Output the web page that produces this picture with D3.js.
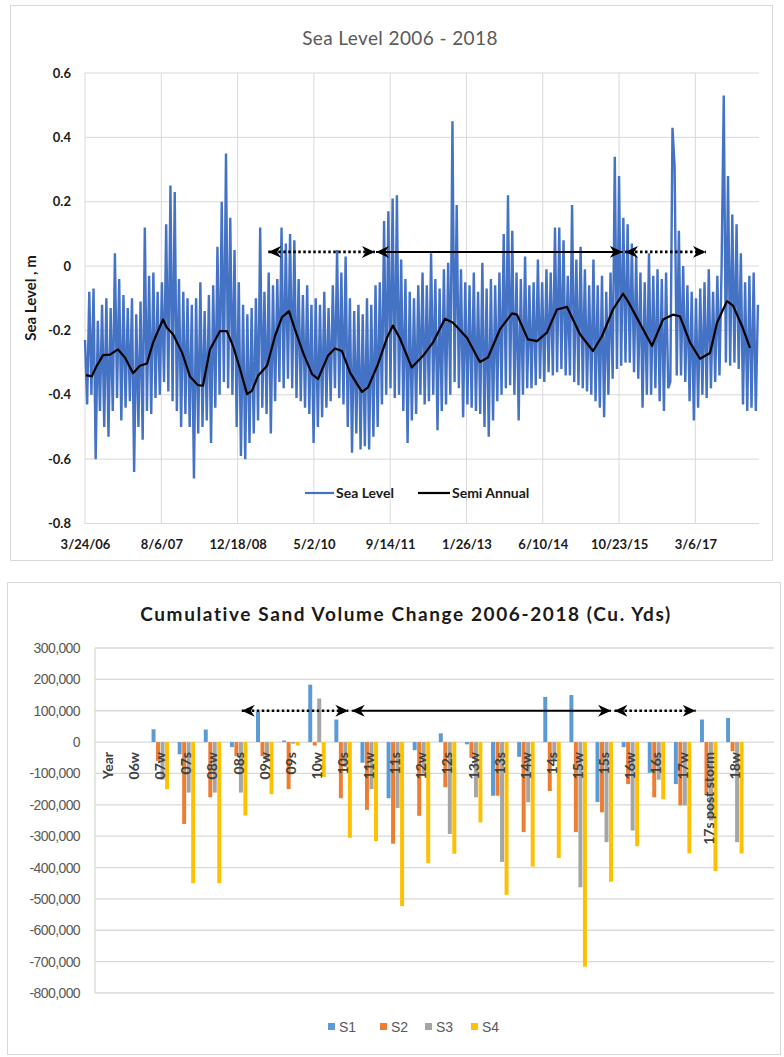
<!DOCTYPE html>
<html>
<head>
<meta charset="utf-8">
<script src="https://cdn.jsdelivr.net/npm/d3@7"></script>
<style>
  body { margin: 0; background: #fff; }
  svg { display: block; font-family: Lato, "Open Sans", sans-serif; }
</style>
</head>
<body>
<svg id="chart" width="784" height="1057"></svg>
<script>
// ---------- Sea level data ----------
const seaStart = "2006-03-24";
const seaEndDay = 4417;          // last day shown on the date axis
const seaStepDays = 14;          // spacing of the sampled sea level points
const seaLevel = [
  -0.23, -0.43, -0.08, -0.40, -0.07, -0.60, -0.17, -0.45, -0.12, -0.50,
  -0.10, -0.53, -0.13, -0.45, 0.04, -0.41, -0.04, -0.48, -0.09, -0.44,
  -0.13, -0.42, -0.10, -0.64, -0.15, -0.50, -0.11, -0.54, 0.12, -0.45,
  -0.03, -0.46, -0.02, -0.41, -0.08, -0.40, -0.05, -0.36, 0.13, -0.39,
  0.25, -0.42, 0.23, -0.45, -0.04, -0.50, -0.08, -0.46, -0.10, -0.50,
  -0.12, -0.66, -0.10, -0.52, -0.05, -0.50, -0.14, -0.48, -0.09, -0.55,
  -0.06, -0.44, 0.06, -0.40, 0.20, -0.36, 0.35, -0.38, 0.15, -0.40,
  0.05, -0.50, -0.05, -0.59, -0.12, -0.60, -0.15, -0.55, -0.13, -0.52,
  -0.10, -0.48, 0.12, -0.44, -0.08, -0.46, -0.02, -0.52, -0.06, -0.42,
  -0.04, -0.36, 0.12, -0.38, 0.07, -0.35, 0.10, -0.38, 0.08, -0.41,
  -0.04, -0.42, -0.09, -0.44, -0.06, -0.46, -0.12, -0.55, -0.10, -0.50,
  -0.12, -0.47, -0.08, -0.44, -0.13, -0.42, -0.06, -0.38, 0.05, -0.41,
  -0.02, -0.43, 0.03, -0.50, -0.10, -0.58, -0.14, -0.52, -0.12, -0.57,
  -0.15, -0.56, -0.10, -0.57, -0.12, -0.53, -0.06, -0.50, -0.05, -0.43,
  0.14, -0.40, 0.17, -0.38, 0.21, -0.41, 0.22, -0.40, 0.02, -0.45,
  -0.04, -0.55, -0.08, -0.48, -0.10, -0.46, -0.06, -0.40, -0.02, -0.43,
  -0.06, -0.42, 0.04, -0.40, -0.04, -0.51, -0.07, -0.45, -0.01, -0.43,
  0.01, -0.40, 0.45, -0.36, 0.19, -0.38, -0.01, -0.47, -0.05, -0.43,
  -0.06, -0.44, -0.02, -0.45, -0.08, -0.46, 0.01, -0.50, -0.07, -0.53,
  -0.04, -0.48, -0.06, -0.42, -0.02, -0.40, 0.10, -0.38, 0.22, -0.37,
  0.11, -0.40, -0.02, -0.48, -0.04, -0.40, 0.03, -0.38, -0.06, -0.38,
  -0.05, -0.37, 0.02, -0.35, -0.05, -0.36, -0.01, -0.33, -0.02, -0.34,
  0.12, -0.33, 0.12, -0.32, 0.08, -0.34, -0.03, -0.34, 0.19, -0.36,
  0.02, -0.37, 0.06, -0.38, -0.01, -0.39, -0.06, -0.40, 0.02, -0.42,
  -0.06, -0.44, -0.03, -0.47, -0.08, -0.40, -0.02, -0.35, 0.34, -0.32,
  0.28, -0.31, 0.15, -0.30, 0.13, -0.30, 0.07, -0.33, 0.03, -0.35,
  -0.02, -0.44, -0.05, -0.40, 0.04, -0.40, -0.03, -0.38, -0.01, -0.42,
  -0.04, -0.45, -0.02, -0.38, -0.36, 0.43, 0.31, -0.34, 0.11, -0.34,
  0.00, -0.36, -0.06, -0.42, -0.08, -0.48, -0.10, -0.44, -0.07, -0.40,
  -0.05, -0.41, -0.01, -0.38, -0.08, -0.36, -0.03, -0.34, 0.00, 0.53,
  -0.30, 0.28, -0.31, 0.16, -0.30, 0.13, -0.32, 0.04, -0.43, -0.05,
  -0.45, -0.03, -0.44, -0.02, -0.45, -0.12
];
const semiDays = [
  7, 44, 77, 118, 164, 216, 262, 315, 360, 406,
  446, 511, 537, 577, 636, 688, 740, 773, 819, 885,
  930, 970, 1016, 1062, 1094, 1134, 1193, 1245, 1291, 1337,
  1376, 1429, 1488, 1527, 1592, 1638, 1684, 1737, 1815, 1855,
  1920, 1979, 2018, 2064, 2141, 2215, 2280, 2359, 2412, 2503,
  2588, 2641, 2719, 2798, 2831, 2903, 2962, 3027, 3093, 3159,
  3244, 3329, 3388, 3460, 3526, 3558, 3617, 3716, 3788, 3853,
  3899, 3965, 4030, 4096, 4142, 4207, 4247, 4306, 4358
];
const semiAnnual = [
  -0.339, -0.343, -0.31, -0.277, -0.275, -0.259, -0.284, -0.333, -0.31, -0.303,
  -0.238, -0.166, -0.192, -0.212, -0.269, -0.343, -0.37, -0.372, -0.259, -0.202,
  -0.202, -0.248, -0.32, -0.398, -0.388, -0.341, -0.31, -0.218, -0.159, -0.14,
  -0.197, -0.269, -0.336, -0.351, -0.279, -0.256, -0.264, -0.331, -0.391, -0.377,
  -0.305, -0.223, -0.185, -0.225, -0.315, -0.279, -0.238, -0.164, -0.176, -0.223,
  -0.298, -0.284, -0.197, -0.147, -0.151, -0.228, -0.233, -0.207, -0.135, -0.127,
  -0.212, -0.264, -0.218, -0.135, -0.086, -0.109, -0.161, -0.248, -0.166, -0.151,
  -0.156, -0.238, -0.288, -0.27, -0.176, -0.109, -0.123, -0.187, -0.254
];
const seaXTickDays = [0, 500, 1000, 1500, 2000, 2500, 3000, 3500, 4000];
const seaYTicks = [-0.8, -0.6, -0.4, -0.2, 0, 0.2, 0.4, 0.6];
const seaArrowDays = [[1201, 1900], [1907, 3524], [3539, 4069]];
const seaArrowLevel = 0.044;

// ---------- Sand volume data ----------
const sandCats = ["Year", "06w", "07w", "07s", "08w", "08s", "09w", "09s", "10w", "10s",
  "11w", "11s", "12w", "12s", "13w", "13s", "14w", "14s", "15w", "15s",
  "16w", "16s", "17w", "17s post storm", "18w", ""];
const sandSeries = ["S1", "S2", "S3", "S4"];
const s1 = [0, 0, 41000, -39000, 40000, -16000, 97000, 5000, 183000, 72000,
  -66000, -179000, -26000, 28000, -7000, -171000, -47000, 144000, 150000, -191000,
  -16000, -98000, -134000, 72000, 77000, 0];
const s2 = [0, 0, -60000, -261000, -176000, -45000, -45000, -150000, -11000, -179000,
  -216000, -324000, -235000, -144000, -50000, -171000, -287000, -156000, -287000, -224000,
  -134000, -176000, -202000, -168000, -29000, 0];
const s3 = [0, 0, -120000, -161000, -161000, -161000, -60000, -5000, 139000, -80000,
  -150000, -210000, -100000, -293000, -176000, -382000, -192000, -60000, -463000, -319000,
  -282000, -120000, -202000, -250000, -319000, 0];
const s4 = [0, 0, -150000, -450000, -450000, -234000, -166000, -11000, -111000, -305000,
  -316000, -523000, -386000, -356000, -256000, -487000, -397000, -370000, -716000, -445000,
  -332000, -182000, -355000, -411000, -355000, 0];
const sandYTicks = [300000, 200000, 100000, 0, -100000, -200000, -300000, -400000,
  -500000, -600000, -700000, -800000];
const sandArrowPos = [[5.62, 9.70], [9.83, 19.76], [19.89, 23.0]];   // in category units
const sandArrowValue = 100000;

const svg = d3.select("#chart");
const grid = "#d9d9d9";

// arrowhead marker shared by both charts
svg.append("defs").append("marker")
  .attr("id", "head")
  .attr("viewBox", "0 -7 14 14")
  .attr("refX", 13)
  .attr("refY", 0)
  .attr("markerUnits", "userSpaceOnUse")
  .attr("markerWidth", 14)
  .attr("markerHeight", 14)
  .attr("orient", "auto-start-reverse")
  .append("path")
  .attr("d", "M0,-6L13,0L0,6L4,0Z")
  .attr("fill", "#000");

function drawArrow(x1, x2, yy, dotted) {
  svg.append("line")
    .attr("x1", x1).attr("x2", x2).attr("y1", yy).attr("y2", yy)
    .attr("stroke", "#000")
    .attr("stroke-width", dotted ? 2.6 : 2)
    .attr("stroke-dasharray", dotted ? "2.5,2.5" : null)
    .attr("marker-start", "url(#head)")
    .attr("marker-end", "url(#head)");
}

// ================= Top chart: sea level =================
(function () {
  svg.append("rect")
    .attr("x", 10.5).attr("y", 5.5).attr("width", 762).attr("height", 555)
    .attr("fill", "none").attr("stroke", grid);

  const t0 = d3.utcParse("%Y-%m-%d")(seaStart);
  const day = d => d3.utcDay.offset(t0, d);

  const x = d3.scaleUtc().domain([t0, day(seaEndDay)]).range([85, 759]);
  const y = d3.scaleLinear().domain([-0.8, 0.6]).range([523.5, 73]);

  // gridlines
  svg.append("g").selectAll("line.h").data(seaYTicks).join("line")
    .attr("x1", 85).attr("x2", 759)
    .attr("y1", d => y(d)).attr("y2", d => y(d))
    .attr("stroke", grid).attr("stroke-width", 1);
  svg.append("g").selectAll("line.v").data(seaXTickDays).join("line")
    .attr("x1", d => x(day(d))).attr("x2", d => x(day(d)))
    .attr("y1", 73).attr("y2", 523.5)
    .attr("stroke", grid).attr("stroke-width", 1);

  // axes
  const yAxis = d3.axisLeft(y).tickValues(seaYTicks).tickSize(0).tickPadding(14)
    .tickFormat(d => String(d));
  svg.append("g").attr("transform", "translate(85,0)").call(yAxis)
    .call(g => g.select(".domain").remove())
    .selectAll("text")
    .attr("font-family", "Lato, sans-serif")
    .attr("font-size", 13).attr("font-weight", "bold").attr("fill", "#1a1a1a");

  const xAxis = d3.axisBottom(x).tickValues(seaXTickDays.map(day)).tickSize(0).tickPadding(16)
    .tickFormat(d3.utcFormat("%-m/%-d/%y"));
  svg.append("g").attr("transform", "translate(0,523.5)").call(xAxis)
    .call(g => g.select(".domain").remove())
    .selectAll("text")
    .attr("font-family", "Lato, sans-serif")
    .attr("font-size", 13).attr("font-weight", "bold").attr("fill", "#1a1a1a");

  // series
  const seaLine = d3.line()
    .x((d, i) => x(day(i * seaStepDays)))
    .y(d => y(d));
  svg.append("path").datum(seaLevel)
    .attr("d", seaLine)
    .attr("fill", "none")
    .attr("stroke", "#4472C4")
    .attr("stroke-width", 2.4)
    .attr("stroke-linejoin", "miter")
    .attr("stroke-miterlimit", 1.5);

  const semiLine = d3.line()
    .x((d, i) => x(day(semiDays[i])))
    .y(d => y(d));
  svg.append("path").datum(semiAnnual)
    .attr("d", semiLine)
    .attr("fill", "none")
    .attr("stroke", "#000")
    .attr("stroke-width", 2.2)
    .attr("stroke-linejoin", "round");

  // title + y title
  svg.append("text")
    .attr("x", 400).attr("y", 45)
    .attr("text-anchor", "middle")
    .attr("font-size", 19).attr("letter-spacing", 0.4).attr("fill", "#595959")
    .text("Sea Level 2006 - 2018");

  svg.append("text")
    .attr("transform", "translate(36,298) rotate(-90)")
    .attr("text-anchor", "middle")
    .attr("font-size", 15).attr("font-weight", "bold").attr("fill", "#1a1a1a")
    .text("Sea Level , m");

  // legend
  const leg = svg.append("g").attr("font-size", 14).attr("font-weight", "bold").attr("fill", "#1a1a1a");
  leg.append("line").attr("x1", 305).attr("x2", 334).attr("y1", 493).attr("y2", 493)
    .attr("stroke", "#4472C4").attr("stroke-width", 2.2);
  leg.append("text").attr("x", 336).attr("y", 498).text("Sea Level");
  leg.append("line").attr("x1", 418).attr("x2", 450).attr("y1", 493).attr("y2", 493)
    .attr("stroke", "#000").attr("stroke-width", 2.2);
  leg.append("text").attr("x", 452).attr("y", 498).text("Semi Annual");

  // annotation arrows
  seaArrowDays.forEach((d, i) => {
    drawArrow(x(day(d[0])), x(day(d[1])), y(seaArrowLevel), i !== 1);
  });
})();

// ================= Bottom chart: sand volume =================
(function () {
  svg.append("rect")
    .attr("x", 7.5).attr("y", 582.5).attr("width", 773).attr("height", 472)
    .attr("fill", "none").attr("stroke", grid);

  const x0 = d3.scaleBand().domain(d3.range(sandCats.length)).range([95, 774])
    .paddingInner(0.29).paddingOuter(0.145);
  const x1 = d3.scaleBand().domain(d3.range(sandSeries.length)).range([0, x0.bandwidth()])
    .padding(0.12);
  const catPos = d3.scaleLinear().domain([0, sandCats.length]).range([95, 774]);
  const y = d3.scaleLinear().domain([-800000, 300000]).range([993, 648]);
  const color = d3.scaleOrdinal().domain(sandSeries)
    .range(["#5B9BD5", "#ED7D31", "#A5A5A5", "#FFC000"]);

  const fmt = d3.formatLocale({ decimal: ".", thousands: ",", grouping: [3],
    currency: ["", ""], minus: "-" }).format(",");

  // gridlines
  svg.append("g").selectAll("line").data(sandYTicks).join("line")
    .attr("x1", 95).attr("x2", 774)
    .attr("y1", d => y(d)).attr("y2", d => y(d))
    .attr("stroke", grid).attr("stroke-width", 1.3);
  svg.append("line").attr("x1", 95).attr("x2", 95).attr("y1", 648).attr("y2", 993)
    .attr("stroke", grid).attr("stroke-width", 1.3);

  const yAxis = d3.axisLeft(y).tickValues(sandYTicks).tickSize(0).tickPadding(15).tickFormat(fmt);
  svg.append("g").attr("transform", "translate(95,0)").call(yAxis)
    .call(g => g.select(".domain").remove())
    .selectAll("text")
    .attr("font-family", "'Liberation Sans', Arial, sans-serif")
    .attr("font-size", 14).attr("letter-spacing", -0.6).attr("fill", "#595959");

  // bars
  const rows = sandCats.map((c, i) => ({ i, vals: [s1[i], s2[i], s3[i], s4[i]] }));
  svg.append("g").selectAll("g").data(rows).join("g")
    .attr("transform", d => `translate(${x0(d.i)},0)`)
    .selectAll("rect").data(d => d.vals.map((v, k) => ({ k, v })))
    .join("rect")
    .attr("x", d => x1(d.k))
    .attr("width", x1.bandwidth())
    .attr("y", d => y(Math.max(0, d.v)))
    .attr("height", d => Math.abs(y(d.v) - y(0)))
    .attr("fill", d => color(sandSeries[d.k]));

  // category labels sitting on the zero line
  svg.append("g").selectAll("text").data(sandCats).join("text")
    .attr("transform", (d, i) => `translate(${x0(i) + x0.bandwidth() / 2},752) rotate(-90)`)
    .attr("dy", "0.35em")
    .attr("text-anchor", "end")
    .attr("font-size", 14).attr("font-weight", "bold").attr("fill", "#404040")
    .text(d => d);

  // title
  svg.append("text")
    .attr("x", 406).attr("y", 621)
    .attr("text-anchor", "middle")
    .attr("font-size", 19).attr("font-weight", "bold").attr("fill", "#1a1a1a")
    .attr("letter-spacing", 1.6)
    .text("Cumulative Sand Volume Change 2006-2018 (Cu. Yds)");

  // legend
  const legX = [328, 380, 425, 471];
  const leg = svg.append("g").selectAll("g").data(sandSeries).join("g")
    .attr("transform", (d, i) => `translate(${legX[i]},1023)`);
  leg.append("rect").attr("width", 7).attr("height", 7).attr("fill", d => color(d));
  leg.append("text").attr("x", 11).attr("y", 8.5)
    .attr("font-family", "'Liberation Sans', Arial, sans-serif")
    .attr("font-size", 14).attr("fill", "#595959")
    .text(d => d);

  // annotation arrows
  sandArrowPos.forEach((p, i) => {
    drawArrow(catPos(p[0]), catPos(p[1]), y(sandArrowValue), i !== 1);
  });
})();
</script>
</body>
</html>
